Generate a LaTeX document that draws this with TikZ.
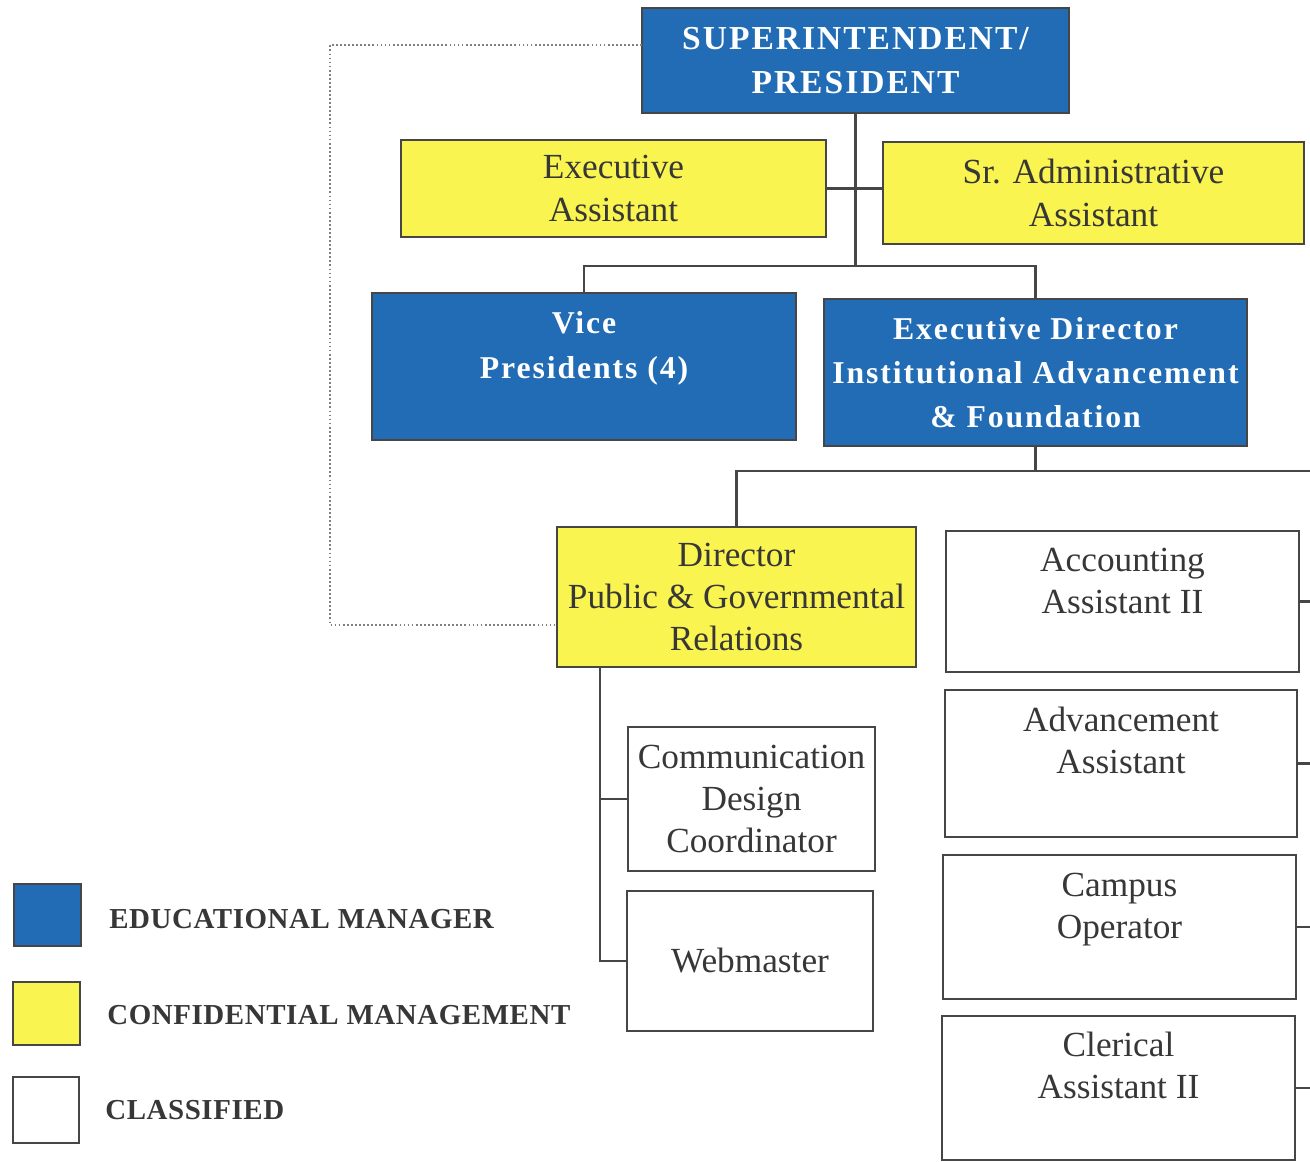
\documentclass[tikz,border=0pt]{standalone}
\usepackage{fontspec}
\setmainfont{Liberation Serif}
\newfontfamily\spacedfont[LetterSpace=6]{Liberation Serif}
\newfontfamily\legfont[LetterSpace=2]{Liberation Serif}
\definecolor{eduBlue}{RGB}{33,108,180}
\definecolor{confYellow}{RGB}{250,244,80}
\definecolor{edgegray}{RGB}{70,70,70}
\definecolor{ink}{RGB}{55,55,55}
\newcommand\bx[7]{\node[#1, minimum width={(#4-#2)*0.5669pt}, minimum height={(#5-#3)*0.5669pt}] (#6) at ({(#2+#4)/2},{(#3+#5)/2}) {#7};}
\tikzset{
  box/.style={draw=edgegray, line width=1.4pt, rectangle, inner sep=0pt, outer sep=0pt, align=center, font=\fontsize{20}{24}\selectfont, text=ink},
  edu/.style={box, fill=eduBlue, text=white, font=\spacedfont\bfseries\fontsize{18}{25}\selectfont},
  conf/.style={box, fill=confYellow},
  cls/.style={box, fill=white},
  toptext/.style={anchor=north, inner sep=0pt, align=center, text=ink, font=\fontsize{20}{24}\selectfont},
  edutop/.style={anchor=north, inner sep=0pt, align=center, text=white, font=\spacedfont\bfseries\fontsize{18}{25}\selectfont},
  legtext/.style={anchor=west, inner sep=0pt, text=ink, font=\legfont\bfseries\fontsize{16.4}{19}\selectfont},
  wire/.style={draw=edgegray, line width=1.4pt},
  dotline/.style={draw=gray, line width=0.7pt, dash pattern=on 1pt off 1.3pt}
}
\begin{document}
\begin{tikzpicture}[x=0.5669pt, y=-0.5669pt]
\fill[white] (0,0) rectangle (1310,1162);
\useasboundingbox (0,0) rectangle (1310,1162);

% boxes
\bx{edu, font=\spacedfont\bfseries\fontsize{19}{25}\selectfont}{642}{8}{1069}{113}{sup}{SUPERINTENDENT/\\PRESIDENT}
\bx{conf}{401}{140}{826}{237}{ea}{Executive\\Assistant}
\bx{conf}{883}{142}{1304}{244}{saa}{Sr. Administrative\\Assistant}
\bx{edu}{372}{293}{796}{440}{vp}{}
\node[edutop] (vpt) at ([yshift=-5.5pt]vp.north) {\strut Vice\\Presidents (4)};
\bx{edu}{824}{299}{1247}{446}{ed}{Executive Director\\Institutional Advancement\\\& Foundation}
\bx{conf}{557}{527}{916}{667}{dir}{Director\\Public \& Governmental\\Relations}
\bx{cls}{628}{727}{875}{871}{cdc}{Communication\\Design\\Coordinator}
\bx{cls}{627}{891}{873}{1031}{web}{Webmaster}
\bx{cls}{946}{531}{1299}{672}{acc}{}
\node[toptext] (acct) at ([yshift=-5.7pt]acc.north) {\strut Accounting\\Assistant II};
\bx{cls}{945}{690}{1297}{837}{adv}{}
\node[toptext] (advt) at ([yshift=-6.5pt]adv.north) {\strut Advancement\\Assistant};
\bx{cls}{943}{855}{1296}{999}{cam}{}
\node[toptext] (camt) at ([yshift=-6.3pt]cam.north) {\strut Campus\\Operator};
\bx{cls}{942}{1016}{1295}{1160}{cler}{}
\node[toptext] (clert) at ([yshift=-6pt]cler.north) {\strut Clerical\\Assistant II};

% legend
\bx{box, fill=eduBlue}{14}{884}{81}{946}{lg1}{}
\bx{box, fill=confYellow}{13}{982}{80}{1045}{lg2}{}
\bx{box, fill=white}{13}{1077}{79}{1143}{lg3}{}
\node[legtext] (lt1) at (109,919) {EDUCATIONAL MANAGER};
\node[legtext] (lt2) at (107,1015) {CONFIDENTIAL MANAGEMENT};
\node[legtext] (lt3) at (105,1110) {CLASSIFIED};

% connectors
\coordinate (j1) at (855.5,266);
\coordinate (j2) at (1310,471);
\coordinate (dtop) at (600,667);
\coordinate (dtl) at (330,45);
\coordinate (dbl) at (330,625);

\draw[wire] (sup.south) -- (j1);
\draw[wire] (ea.east) -- (ea.east -| saa.west);
\draw[wire] (vp.north) |- (j1) -| (ed.north);
\draw[wire] (ed.south) -- (ed.south |- j2);
\draw[wire] (dir.north) |- (j2);
\draw[wire] (acc.east) -- (acc.east -| j2);
\draw[wire] (adv.east) -- (adv.east -| j2);
\draw[wire] (cam.east) -- (cam.east -| j2);
\draw[wire] (cler.east) -- (cler.east -| j2);
\draw[wire] (dtop) |- (web.west);
\draw[wire] (cdc.west) -- (cdc.west -| dtop);
\draw[dotline] (dtl -| sup.west) -- (dtl) -- (dbl) -- (dbl -| dir.west);
\end{tikzpicture}
\end{document}
